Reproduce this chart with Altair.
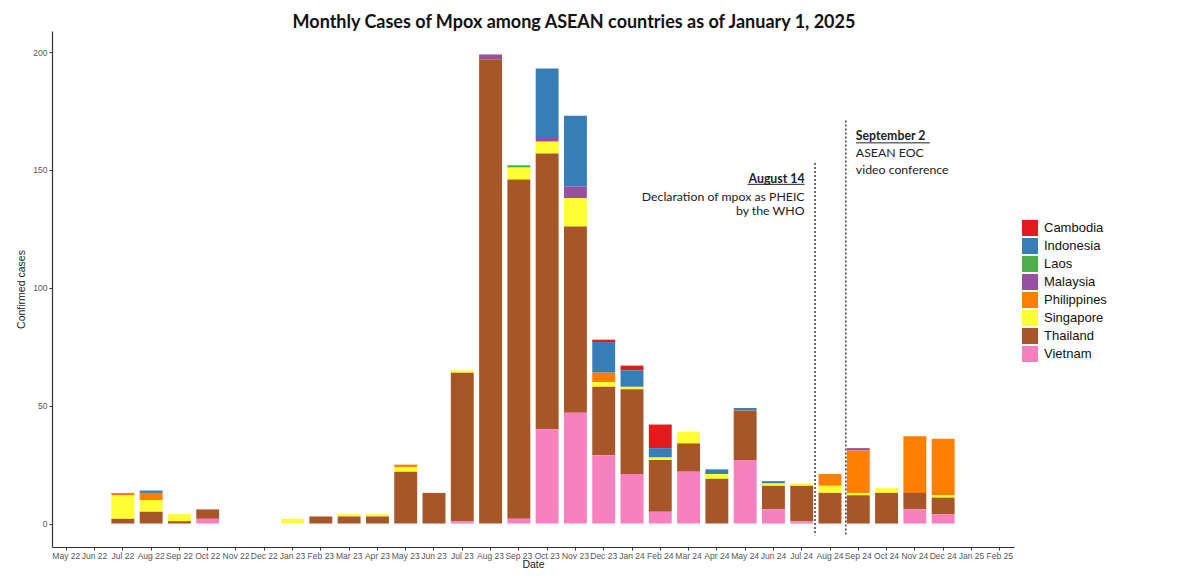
import altair as alt
import pandas as pd

months = ["May 22", "Jun 22", "Jul 22", "Aug 22", "Sep 22", "Oct 22", "Nov 22", "Dec 22",
          "Jan 23", "Feb 23", "Mar 23", "Apr 23", "May 23", "Jun 23", "Jul 23", "Aug 23",
          "Sep 23", "Oct 23", "Nov 23", "Dec 23",
          "Jan 24", "Feb 24", "Mar 24", "Apr 24", "May 24", "Jun 24", "Jul 24", "Aug 24",
          "Sep 24", "Oct 24", "Nov 24", "Dec 24",
          "Jan 25", "Feb 25"]

countries = ["Cambodia", "Indonesia", "Laos", "Malaysia", "Philippines", "Singapore", "Thailand", "Vietnam"]
colors = ["#E41A1C", "#377EB8", "#4DAF4A", "#984EA3", "#FF7F00", "#FFFF33", "#A65628", "#F781BF"]

#            May-Dec 2022              Jan-Dec 2023                                  Jan-Dec 2024                              Jan-Feb 2025
cambodia    = [0, 0, 0, 0, 0, 0, 0, 0] + [0, 0, 0, 0, 0, 0, 0, 0, 0, 0, 0, 1] + [2, 10, 0, 0, 0, 0, 0, 0, 0, 0, 0, 0] + [0, 0]
indonesia   = [0, 0, 0, 1, 0, 0, 0, 0] + [0, 0, 0, 0, 0, 0, 0, 0, 0, 29, 30, 13] + [7, 4, 0, 2, 1, 1, 0, 0, 0, 0, 0, 0] + [0, 0]
laos        = [0, 0, 0, 0, 0, 0, 0, 0] + [0, 0, 0, 0, 0, 0, 0, 0, 1, 0, 0, 0] + [0, 0, 0, 0, 0, 0, 0, 0, 0, 0, 0, 0] + [0, 0]
malaysia    = [0, 0, 0, 0, 0, 0, 0, 0] + [0, 0, 0, 0, 0, 0, 0, 2, 0, 2, 5, 0] + [0, 0, 0, 0, 0, 0, 0, 0, 1, 0, 0, 0] + [0, 0]
philippines = [0, 0, 1, 3, 0, 0, 0, 0] + [0, 0, 0, 0, 1, 0, 0, 0, 0, 0, 0, 4] + [0, 0, 0, 0, 0, 0, 0, 5, 18, 0, 24, 24] + [0, 0]
singapore   = [0, 0, 10, 5, 3, 0, 0, 0] + [2, 0, 1, 1, 2, 0, 1, 0, 5, 5, 12, 2] + [1, 1, 5, 2, 0, 1, 1, 3, 1, 2, 0, 1] + [0, 0]
thailand    = [0, 0, 2, 5, 1, 4, 0, 0] + [0, 3, 3, 3, 22, 13, 63, 197, 144, 117, 79, 29] + [36, 22, 12, 19, 21, 10, 15, 13, 12, 13, 7, 7] + [0, 0]
vietnam     = [0, 0, 0, 0, 0, 2, 0, 0] + [0, 0, 0, 0, 0, 0, 1, 0, 2, 40, 47, 29] + [21, 5, 22, 0, 27, 6, 1, 0, 0, 0, 6, 4] + [0, 0]

series = [cambodia, indonesia, laos, malaysia, philippines, singapore, thailand, vietnam]

# event lines
event_months = ["Aug 24", "Sep 24"]
event_tops = [153, 171]
event_bottom = -5

# annotations
left_head = "August 14"
left_head_y = 146
left_lines = ["Declaration of mpox as PHEIC", "by the WHO"]
left_y = [138.7, 132.4]
left_underline_y = 143.9
right_head = "September 2"
right_head_y = 164.3
right_lines = ["ASEAN EOC", "video conference"]
right_y = [157.3, 149.8]
right_underline_y = 161.5

rows = []
for ci, (c, vals) in enumerate(zip(countries, series)):
    for m, v in zip(months, vals):
        if v > 0:
            rows.append({"month": m, "country": c, "cases": v, "ord": ci})
df = pd.DataFrame(rows)

xscale = alt.Scale(domain=months, paddingInner=0.19, paddingOuter=0.1)
yscale = alt.Scale(domain=[-9.95, 208.95], nice=False, zero=False)

bars = alt.Chart(df).mark_bar().encode(
    x=alt.X("month:O", scale=xscale, sort=months, title="Date",
            axis=alt.Axis(labelAngle=0, labelOverlap=False, labelBound=False)),
    y=alt.Y("sum(cases):Q", scale=yscale, title="Confirmed cases",
            axis=alt.Axis(values=[0, 50, 100, 150, 200])),
    color=alt.Color("country:N", scale=alt.Scale(domain=countries, range=colors),
                    legend=alt.Legend(title=None, orient="none", legendX=970, legendY=189,
                                      symbolType="square", symbolSize=256, symbolStrokeWidth=0,
                                      symbolOpacity=1, labelFontSize=13, labelFont="Liberation Sans",
                                      labelColor="#111", rowPadding=2, labelOffset=6, padding=0)),
    order=alt.Order("ord:Q", sort="descending"),
)


def event_rule(i, off):
    ev = pd.DataFrame({"month": [event_months[i]], "top": [event_tops[i]], "bottom": [event_bottom]})
    return alt.Chart(ev).mark_rule(strokeDash=[2, 2], color="#222", strokeWidth=1.3, xOffset=off).encode(
        x=alt.X("month:O", scale=xscale, sort=months, bandPosition=0),
        y=alt.Y("top:Q", scale=yscale),
        y2="bottom:Q",
    )


rules = [event_rule(0, -3.5), event_rule(1, -1)]


def txt(month, lines, ys, align, dx, weight):
    d = pd.DataFrame({"month": [month] * len(lines), "y": ys, "text": lines})
    return alt.Chart(d).mark_text(align=align, baseline="middle", dx=dx, font="Lato",
                                  fontSize=12.3, color="#222", fontWeight=weight).encode(
        x=alt.X("month:O", scale=xscale, sort=months, bandPosition=0),
        y=alt.Y("y:Q", scale=yscale),
        text="text:N",
    )


texts = [
    txt("Aug 24", [left_head], [left_head_y], "right", -14, "bold"),
    txt("Aug 24", left_lines, left_y, "right", -14, "normal"),
    txt("Sep 24", [right_head], [right_head_y], "left", 9, "bold"),
    txt("Sep 24", right_lines, right_y, "left", 9, "normal"),
]


def underline(month, y, x0, x1):
    return alt.Chart(pd.DataFrame({"month": [month], "y": [y]})).mark_rule(
        color="#222", strokeWidth=1, xOffset=x0, x2Offset=x1).encode(
        x=alt.X("month:O", scale=xscale, sort=months, bandPosition=0),
        x2=alt.X2("month", bandPosition=0),
        y=alt.Y("y:Q", scale=yscale),
    )


ul_left = underline("Aug 24", left_underline_y, -71, -14)
ul_right = underline("Sep 24", right_underline_y, 9, 83)

chart = alt.layer(bars, *rules, *texts, ul_left, ul_right).properties(
    width=962, height=516,
    autosize=alt.AutoSizeParams(type="none"),
    padding={"left": 44, "top": 23, "right": 172, "bottom": 24},
    title=alt.TitleParams("Monthly Cases of Mpox among ASEAN countries as of January 1, 2025",
                          font="Lato", fontSize=18, fontWeight="bold", color="#111",
                          anchor="middle", dx=41, offset=-1),
).configure_view(stroke=None).configure_axis(
    grid=False, domainColor="#333", domainWidth=1.2, tickColor="#333", tickSize=3,
    labelFont="Liberation Sans", labelFontSize=8.5, labelColor="#555", labelPadding=2,
    titleFont="Liberation Sans", titleFontSize=10.5, titleColor="#222", titleFontWeight="normal",
).configure_axisX(titleY=22.5, titleBaseline="bottom", labelPadding=1).configure_axisY(titlePadding=6)

chart.save("out.html", embed_options={"renderer": "svg", "actions": False})
